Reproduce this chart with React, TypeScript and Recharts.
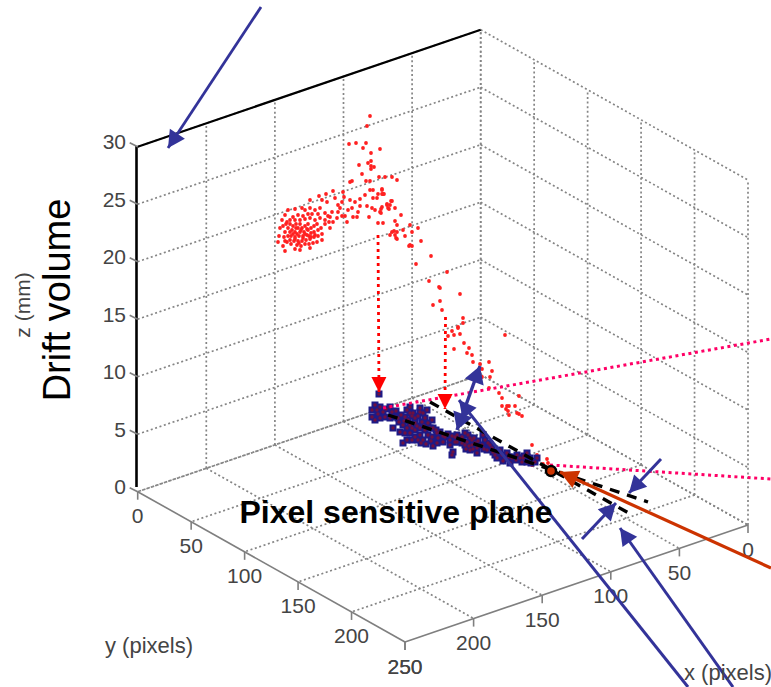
import React from 'react';
import { ScatterChart, Scatter, XAxis, YAxis } from 'recharts';

const WIDTH = 771;
const HEIGHT = 687;

// axis ticks of the 3d box
const xTicks = [0, 50, 100, 150, 200, 250];
const yTicks = [0, 50, 100, 150, 200, 250];
const zTicks = [0, 5, 10, 15, 20, 25, 30];

// hits as seen in the view plane (the depth can't be read back from a projected picture)
const driftHits: number[][] = [
  [370, 116], [367, 126], [349, 144], [356, 143], [366, 143], [363, 148], [380, 149], [371, 153], [371, 161], [368, 163],
  [374, 167], [371, 166], [359, 165], [371, 169], [362, 174], [379, 177], [385, 177], [392, 177], [397, 180], [370, 181],
  [366, 181], [352, 181], [350, 182], [288, 210], [295, 209], [302, 208], [310, 200], [319, 196], [326, 194], [333, 191],
  [322, 200], [327, 202], [335, 198], [343, 192], [344, 197], [338, 205], [342, 202], [350, 200], [355, 202], [360, 199],
  [365, 195], [370, 190], [373, 190], [382, 189], [378, 194], [383, 194], [373, 198], [377, 198], [360, 206], [367, 206],
  [372, 208], [375, 210], [380, 212], [387, 205], [392, 201], [388, 208], [395, 208], [401, 215], [395, 221], [397, 225],
  [378, 223], [383, 223], [369, 217], [357, 217], [353, 217], [347, 222], [342, 216], [345, 216], [338, 212], [332, 212],
  [330, 217], [325, 213], [320, 208], [315, 210], [310, 208], [305, 210], [298, 215], [293, 217], [285, 215], [290, 220],
  [352, 208], [348, 210], [358, 212], [340, 208], [392, 232], [397, 232], [395, 235], [396, 238], [390, 235], [403, 230],
  [410, 225], [405, 236], [410, 245], [412, 246], [382, 190], [382, 194], [384, 194], [391, 201], [387, 204], [390, 205],
  [382, 207], [389, 209], [381, 209], [381, 213], [418, 228], [412, 232], [394, 231], [397, 239], [421, 241], [409, 246],
  [431, 256], [416, 264], [447, 272], [429, 281], [439, 287], [440, 288], [460, 294], [440, 301], [433, 305], [442, 310],
  [463, 318], [463, 323], [458, 327], [458, 328], [452, 331], [460, 334], [454, 335], [448, 336], [505, 335], [464, 343],
  [469, 348], [454, 349], [467, 353], [472, 355], [473, 362], [489, 362], [480, 364], [482, 369], [492, 371], [490, 377],
  [482, 377], [489, 388], [499, 393], [502, 398], [519, 396], [502, 406], [507, 406], [509, 406], [515, 406], [506, 409],
  [508, 411], [517, 413], [509, 415], [519, 414], [522, 416], [532, 445], [537, 455], [538, 457], [547, 459], [548, 463],
  [543, 464], [532, 465], [280, 228], [283, 226], [286, 224], [288, 228], [285, 232], [290, 224], [293, 226], [296, 224],
  [292, 230], [295, 232], [298, 228], [300, 224], [302, 228], [305, 226], [308, 224], [300, 232], [304, 232], [308, 230],
  [311, 228], [314, 226], [317, 224], [288, 236], [291, 236], [295, 237], [299, 236], [303, 236], [307, 235], [311, 233],
  [314, 232], [318, 230], [321, 228], [325, 224], [329, 222], [290, 240], [294, 241], [298, 241], [302, 241], [306, 240],
  [310, 239], [314, 237], [318, 236], [322, 234], [297, 245], [301, 246], [305, 244], [309, 244], [313, 243], [317, 242],
  [285, 241], [279, 236], [278, 242], [283, 246], [295, 249], [310, 248], [285, 251], [300, 250], [320, 218], [325, 220],
  [315, 220], [310, 218], [305, 219], [300, 220], [295, 220], [287, 222], [282, 220], [308, 214], [303, 216], [318, 214],
  [312, 214], [328, 216], [333, 222], [337, 218], [330, 228], [322, 240], [296, 228], [290, 232], [284, 237], [287, 242],
  [293, 234], [297, 234], [301, 230], [305, 234], [309, 236], [303, 238], [299, 243], [295, 239], [291, 244], [307, 229],
  [311, 237], [315, 235],
];

const planeHits: number[][] = [
  [379, 394], [375, 405], [372, 410], [372, 417], [377, 410], [380, 407], [380, 418], [375, 420], [383, 412], [385, 417],
  [390, 407], [392, 412], [390, 418], [395, 417], [398, 418], [400, 432], [403, 425], [393, 428], [407, 410], [410, 407],
  [410, 413], [405, 417], [408, 420], [413, 413], [415, 418], [420, 412], [423, 413], [425, 418], [420, 408], [427, 410],
  [432, 420], [428, 423], [422, 422], [415, 423], [410, 425], [407, 428], [405, 433], [410, 433], [415, 430], [420, 428],
  [425, 430], [420, 435], [428, 435], [415, 437], [407, 440], [403, 443], [412, 440], [418, 440], [423, 440], [432, 437],
  [437, 433], [433, 428], [440, 432], [445, 437], [450, 440], [455, 437], [437, 443], [433, 446], [443, 442], [453, 452],
  [452, 455], [457, 442], [462, 437], [462, 443], [450, 445], [465, 433], [457, 435], [455, 442], [462, 438], [467, 442],
  [468, 435], [472, 445], [477, 448], [477, 453], [482, 445], [485, 440], [488, 443], [492, 448], [487, 450], [497, 458],
  [502, 455], [507, 453], [510, 463], [513, 457], [517, 455], [522, 462], [527, 453], [527, 462], [530, 458], [535, 462],
  [512, 458], [472, 440], [465, 445], [475, 443], [483, 435], [520, 458], [523, 458], [498, 452], [505, 458],
  [378, 414], [386, 409], [396, 411], [401, 415], [399, 422], [404, 421], [412, 416], [418, 416], [417, 426], [412, 428],
  [424, 426], [430, 428], [436, 430], [443, 436], [448, 434], [452, 436], [438, 438], [431, 441], [426, 444], [421, 443],
  [458, 438], [470, 438], [474, 438], [478, 441], [480, 446], [484, 449], [470, 450], [466, 449], [490, 445], [493, 452],
  [500, 450], [495, 455], [509, 457], [516, 460], [524, 456], [531, 463], [537, 458], [503, 461], [473, 449], [469, 446],
];

const project = (x: number, y: number, z: number) => ({
  x: 480.7 - (343 / 250) * x + (267.3 / 250) * y,
  y: 374.7 + (117 / 250) * x + (150.3 / 250) * y - 11.5 * z,
});

const GRID = '#858585';
const AXIS = '#7f7f7f';
const TEXT = '#444444';
const BLUE = '#333399';
const ORANGE = '#cc3300';
const PINK = '#ff0066';

const noMark = () => null;

const Seg = (key: string, a: { x: number; y: number }, b: { x: number; y: number }, style: any) => (
  <Scatter key={key} data={[a, b]} shape={noMark} line={style} isAnimationActive={false} />
);

// line with a filled head at the "to" end (and "from" end when both is set)
const Arrow = (key: string, from: number[], to: number[], color: string, width: number, len: number, half: number, both = false, dotted = false) => {
  const a = { x: from[0], y: from[1] };
  const b = { x: to[0], y: to[1] };
  const head = (props: any) => {
    const isTip = props.payload.x === b.x && props.payload.y === b.y;
    if (!isTip && !both) return null;
    const o = isTip ? a : b;
    const angle = (Math.atan2(props.payload.y - o.y, props.payload.x - o.x) * 180) / Math.PI;
    return (
      <polygon
        points={`0,0 ${-len},${-half} ${-len},${half}`}
        fill={color}
        transform={`translate(${props.cx} ${props.cy}) rotate(${angle})`}
      />
    );
  };
  const lineStyle = dotted
    ? { stroke: color, strokeWidth: width, strokeDasharray: '3 4' }
    : { stroke: color, strokeWidth: width };
  return <Scatter key={key} data={[a, b]} shape={head} line={lineStyle} isAnimationActive={false} />;
};

const Label = (key: string, x: number, y: number, label: string, size: number, opts: any = {}) => {
  const draw = (props: any) => (
    <text
      x={props.cx}
      y={props.cy}
      fontSize={size}
      fontFamily="Liberation Sans, Arial, sans-serif"
      fill={opts.fill || TEXT}
      fontWeight={opts.bold ? 'bold' : 'normal'}
      textAnchor={opts.anchor || 'middle'}
      dominantBaseline="central"
      transform={opts.rotate ? `rotate(${opts.rotate} ${props.cx} ${props.cy})` : undefined}
    >
      {label}
    </text>
  );
  return <Scatter key={key} data={[{ x, y }]} shape={draw} isAnimationActive={false} />;
};

const gridStyle = { stroke: GRID, strokeWidth: 1.7, strokeDasharray: '2 2.6' };
const axisStyle = { stroke: AXIS, strokeWidth: 1.6 };
const pinkStyle = { stroke: PINK, strokeWidth: 3, strokeDasharray: '3 3.6' };
const dashStyle = { stroke: '#000', strokeWidth: 3.4, strokeDasharray: '10 8' };

const App = () => {
  const planeData = planeHits.map(([x, y]) => ({ x, y }));
  const driftData = driftHits.map(([x, y]) => ({ x, y }));

  return (
    <div style={{ position: 'absolute', left: 0, top: 0 }}>
      <ScatterChart width={WIDTH} height={HEIGHT} margin={{ top: 0, right: 0, bottom: 0, left: 0 }}>
        <XAxis type="number" dataKey="x" domain={[0, WIDTH]} hide />
        <YAxis type="number" dataKey="y" domain={[0, HEIGHT]} reversed hide />

        {/* floor */}
        {xTicks.slice(0, 5).map(t => Seg(`fx${t}`, project(t, 0, 0), project(t, 250, 0), gridStyle))}
        {yTicks.slice(0, 5).map(t => Seg(`fy${t}`, project(0, t, 0), project(250, t, 0), gridStyle))}
        {/* walls */}
        {xTicks.slice(0, 5).map(t => Seg(`wx${t}`, project(t, 0, 0), project(t, 0, 30), gridStyle))}
        {yTicks.slice(0, 6).map(t => Seg(`wy${t}`, project(0, t, 0), project(0, t, 30), gridStyle))}
        {zTicks.map(t => Seg(`zl${t}`, project(250, 0, t), project(0, 0, t), gridStyle))}
        {zTicks.map(t => Seg(`zr${t}`, project(0, 0, t), project(0, 250, t), gridStyle))}

        {/* box edges */}
        {Seg('edgeY', project(250, 0, 0), project(250, 250, 0), axisStyle)}
        {Seg('edgeX', project(0, 250, 0), project(250, 250, 0), axisStyle)}
        {Seg('edgeTop', project(250, 0, 30), project(0, 0, 30), { stroke: '#000', strokeWidth: 2.2 })}
        {Seg('edgeZ', { x: 136.5, y: 146 }, { x: 136.5, y: 487 }, { stroke: '#000', strokeWidth: 2.6 })}

        {/* tick marks */}
        {yTicks.map(t => {
          const p = project(250, t, 0);
          return Seg(`ty${t}`, p, { x: p.x, y: p.y + 8 }, axisStyle);
        })}
        {xTicks.map(t => {
          const p = project(t, 250, 0);
          return Seg(`tx${t}`, p, { x: p.x, y: p.y + 8 }, axisStyle);
        })}
        {zTicks.map(t => {
          const p = project(250, 0, t);
          return Seg(`tz${t}`, p, { x: p.x - 8, y: p.y - 4 }, axisStyle);
        })}

        {/* tick labels */}
        {yTicks.map(t => {
          const p = project(250, t, 0);
          return Label(`ly${t}`, p.x, p.y + 24, String(t), 21);
        })}
        {xTicks.map(t => {
          const p = project(t, 250, 0);
          return Label(`lx${t}`, p.x, p.y + 24, String(t), 21);
        })}
        {zTicks.map(t => {
          const p = project(250, 0, t);
          return Label(`lz${t}`, 126, p.y - 5, String(t), 21, { anchor: 'end' });
        })}

        {/* hits */}
        <Scatter
          data={driftData}
          isAnimationActive={false}
          shape={(p: any) => <circle cx={p.cx} cy={p.cy} r={1.9} fill="#ff2020" />}
        />
        <Scatter
          data={planeData}
          isAnimationActive={false}
          shape={(p: any) => <rect x={p.cx - 3.5} y={p.cy - 3.5} width={7} height={7} fill="#1e1a86" />}
        />
        <Scatter
          data={planeData}
          isAnimationActive={false}
          shape={(p: any) => <circle cx={p.cx} cy={p.cy} r={1.7} fill="#6e1040" />}
        />

        {/* annotations */}
        {Seg('pink1', { x: 383, y: 408 }, { x: 771, y: 339 }, pinkStyle)}
        {Seg('pink2', { x: 550, y: 465 }, { x: 771, y: 479 }, pinkStyle)}
        {Arrow('drop1', [378, 235], [379, 392], '#ff0000', 2.8, 15, 7.5, false, true)}
        {Arrow('drop2', [445.5, 317], [445, 409], '#ff0000', 2.8, 15, 7.5, false, true)}
        {Seg('dashA', { x: 430, y: 402 }, { x: 634, y: 516 }, dashStyle)}
        {Seg('dashB', { x: 388, y: 415 }, { x: 648, y: 502 }, dashStyle)}
        {Arrow('top', [261, 7], [168, 148], BLUE, 2.8, 17, 9)}
        {Arrow('double', [457, 430], [480, 366], BLUE, 3.4, 17, 10, true)}
        {Arrow('long1', [688, 687], [459, 400], BLUE, 3, 17, 9)}
        {Arrow('long2', [733, 687], [620, 528], BLUE, 3, 17, 9)}
        {Arrow('short1', [661, 459], [629, 493], BLUE, 3, 17, 9)}
        {Arrow('short2', [582, 539], [616, 503], BLUE, 3, 17, 9)}
        {Arrow('orange', [771, 568], [560, 472], ORANGE, 3.2, 18, 9.5)}
        <Scatter
          data={[{ x: 551, y: 471 }]}
          isAnimationActive={false}
          shape={(p: any) => <circle cx={p.cx} cy={p.cy} r={5} fill={ORANGE} stroke="#000" strokeWidth={2.4} />}
        />

        {/* titles */}
        {Label('yName', 149, 645, 'y (pixels)', 22)}
        {Label('xName', 728, 672, 'x (pixels)', 22)}
        {Label('zName', 22, 305, 'z (mm)', 21, { rotate: -90 })}
        {Label('drift', 57, 300, 'Drift volume', 38, { rotate: -90, fill: '#000' })}
        {Label('plane', 396, 512, 'Pixel sensitive plane', 32, { bold: true, fill: '#000' })}
      </ScatterChart>
    </div>
  );
};

export default App;
